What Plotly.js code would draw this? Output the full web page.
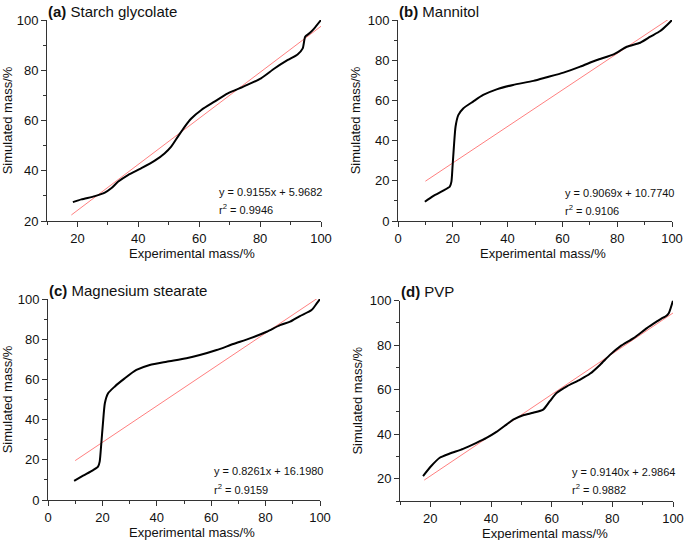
<!DOCTYPE html>
<html>
<head>
<meta charset="utf-8">
<script src="https://cdn.plot.ly/plotly-3.0.1.min.js"></script>
<style>html,body{margin:0;padding:0;background:#fff;}#chart{width:685px;height:540px;}</style>
</head>
<body>
<div id="chart"></div>
<script>
// ---- Data ----
// (a) Starch glycolate
var aX = [18.5, 21.3, 25.7, 29, 31.1, 33.3, 36.6, 41, 45.4, 48.6, 50.8, 53, 55.2, 57.4, 60.7, 65, 69.4, 74.9, 80.3, 84.7, 89.1, 92.3, 94, 94.8, 96.2, 97.8, 100];
var aY = [27.5, 28.6, 29.9, 31.3, 33, 35.6, 38.3, 41, 44, 46.9, 49.6, 53.6, 57.5, 60.8, 64.2, 67.5, 70.8, 73.7, 76.8, 80.7, 84.1, 86.3, 88.7, 93.3, 94.7, 96.7, 100];
var aFitX = [18, 100];
var aFitY = [22.4, 97.5];
// (b) Mannitol
var bX = [9.8, 12.8, 16.5, 18.9, 19.5, 19.9, 20.4, 21, 22, 23.8, 27.4, 31.1, 36, 42, 49.4, 54.3, 60.4, 66.5, 72.6, 78.7, 83.5, 88.4, 92.1, 95.7, 98.2, 100];
var bY = [9.6, 12.4, 15.1, 17.1, 19.6, 27, 37, 46.9, 52.7, 56, 59.4, 62.7, 65.5, 67.7, 69.7, 71.5, 73.8, 76.8, 80.1, 82.9, 86.7, 88.7, 91.7, 94.5, 97.5, 100];
var bFitX = [10, 100];
var bFitY = [19.8, 101.5];
// (c) Magnesium stearate
var cX = [9.6, 12.9, 16.6, 18.4, 19, 19.6, 20.2, 20.9, 22.1, 24.5, 28.2, 32.5, 37.4, 43.6, 50.9, 55.8, 62, 68.1, 74.2, 80.4, 85.3, 89, 92.6, 96.9, 98.8, 100];
var cY = [9.5, 12.1, 14.9, 16.6, 19.1, 28.2, 38.1, 48.1, 53.1, 56.4, 60.5, 64.7, 67.2, 68.8, 70.5, 72.1, 74.6, 77.6, 80.4, 83.7, 87, 88.7, 91.5, 94.5, 97.8, 100];
var cFitX = [10, 100];
var cFitY = [19.6, 101.2];
// (d) PVP
var dX = [17.6, 20.3, 23.1, 26.4, 30.8, 35.2, 38.5, 41.8, 45.1, 47.3, 50.6, 53.9, 57.2, 59.4, 61.6, 65, 69.4, 72.7, 76, 79.3, 82.6, 87, 91.4, 94.7, 96.4, 97.5, 98.6, 100];
var dY = [21.2, 25.7, 29.4, 31.3, 33.4, 36.1, 38.3, 41, 44.3, 46.5, 48.5, 49.6, 51, 54.8, 58.5, 61.5, 64.5, 67.2, 71.2, 75.7, 79.4, 83.1, 87.6, 90.6, 92.1, 92.8, 94.3, 100];
var dFitX = [18, 100];
var dFitY = [19.4, 94.4];

var panelTitles = ['Starch glycolate', 'Mannitol', 'Magnesium stearate', 'PVP'];
var panelLetters = ['(a)', '(b)', '(c)', '(d)'];
var eqTexts = ['y = 0.9155x + 5.9682', 'y = 0.9069x + 10.7740', 'y = 0.8261x + 16.1980', 'y = 0.9140x + 2.9864'];
var r2Texts = ['0.9946', '0.9106', '0.9159', '0.9882'];
var xTitle = 'Experimental mass/%';
var yTitle = 'Simulated mass/%';

// ---- Layout ----
var W = 685, H = 540;
function px(x) { return x / W; }
function py(y) { return 1 - y / H; }
var FONT = 'Liberation Sans, Arial, Helvetica, sans-serif';

var boxes = [
  {x0: 47, x1: 321, y0: 20, y1: 221, xr: [10, 100], yr: [20, 100]},
  {x0: 398, x1: 672, y0: 20, y1: 221, xr: [0, 100], yr: [0, 100]},
  {x0: 48, x1: 320, y0: 299, y1: 500, xr: [0, 100], yr: [0, 100]},
  {x0: 400, x1: 673, y0: 300.5, y1: 501, xr: [10, 100], yr: [10, 100]}
];
var series = [[aX, aY, aFitX, aFitY], [bX, bY, bFitX, bFitY], [cX, cY, cFitX, cFitY], [dX, dY, dFitX, dFitY]];
var eqPos = [[216.7, 192, 209], [562.7, 193, 210], [212.3, 471, 489], [570, 472, 489]];

var data = [];
var layout = {
  width: W, height: H,
  margin: {l: 0, r: 0, t: 0, b: 0},
  paper_bgcolor: '#fff', plot_bgcolor: 'rgba(0,0,0,0)',
  showlegend: false,
  font: {family: FONT, size: 13, color: '#111'},
  annotations: []
};

boxes.forEach(function (b, i) {
  var n = i + 1;
  var xa = 'x' + (n === 1 ? '' : n), ya = 'y' + (n === 1 ? '' : n);
  var s = series[i];
  data.push({x: s[2], y: s[3], xaxis: xa, yaxis: ya, mode: 'lines', type: 'scatter',
    line: {color: '#ff8080', width: 1}, hoverinfo: 'skip'});
  data.push({x: s[0], y: s[1], xaxis: xa, yaxis: ya, mode: 'lines', type: 'scatter',
    line: {color: '#000', width: 2, shape: 'spline', smoothing: 0.6}});
  var minor = {ticks: 'outside', ticklen: 3, dtick: 10, tick0: 0, tickcolor: '#333', tickwidth: 1, showgrid: false};
  var axBase = {
    showline: true, linecolor: '#333', linewidth: 1, showgrid: false, zeroline: false,
    ticks: 'outside', ticklen: 5, tickcolor: '#333', tickwidth: 1,
    tickfont: {family: FONT, size: 13, color: '#111'},
    minor: minor, dtick: 20, tick0: 0, fixedrange: true, automargin: false
  };
  layout['xaxis' + (n === 1 ? '' : n)] = Object.assign({}, axBase, {
    domain: [px(b.x0), px(b.x1)], range: b.xr, anchor: ya
  });
  layout['yaxis' + (n === 1 ? '' : n)] = Object.assign({}, axBase, {
    domain: [py(b.y1), py(b.y0)], range: b.yr, anchor: xa,
    title: {text: yTitle, standoff: 4, font: {family: FONT, size: 13, color: '#111'}}
  });

  // panel title
  layout.annotations.push({xref: 'paper', yref: 'paper', x: px(b.x0 - 1), y: py(b.y0 - 9),
    xanchor: 'left', yanchor: 'middle', showarrow: false,
    text: '<b>' + panelLetters[i] + '</b> ' + panelTitles[i], font: {family: FONT, size: 15, color: '#111'}});
  // x axis title (slightly right of the plot centre, as in the reference)
  layout.annotations.push({xref: 'paper', yref: 'paper', x: px((b.x0 + b.x1) / 2 + 8), y: py(b.y1 + 32),
    xanchor: 'center', yanchor: 'middle', showarrow: false,
    text: xTitle, font: {family: FONT, size: 13, color: '#111'}});
  // equation
  var e = eqPos[i];
  layout.annotations.push({xref: 'paper', yref: 'paper', x: px(e[0]), y: py(e[1]),
    xanchor: 'left', yanchor: 'middle', showarrow: false,
    text: eqTexts[i], font: {family: FONT, size: 11, color: '#111'}});
  layout.annotations.push({xref: 'paper', yref: 'paper', x: px(e[0]), y: py(e[2]),
    xanchor: 'left', yanchor: 'middle', showarrow: false,
    text: 'r<sup>2</sup> = ' + r2Texts[i], font: {family: FONT, size: 11, color: '#111'}});
});

Plotly.newPlot('chart', data, layout, {staticPlot: true, displayModeBar: false});
</script>
</body>
</html>
